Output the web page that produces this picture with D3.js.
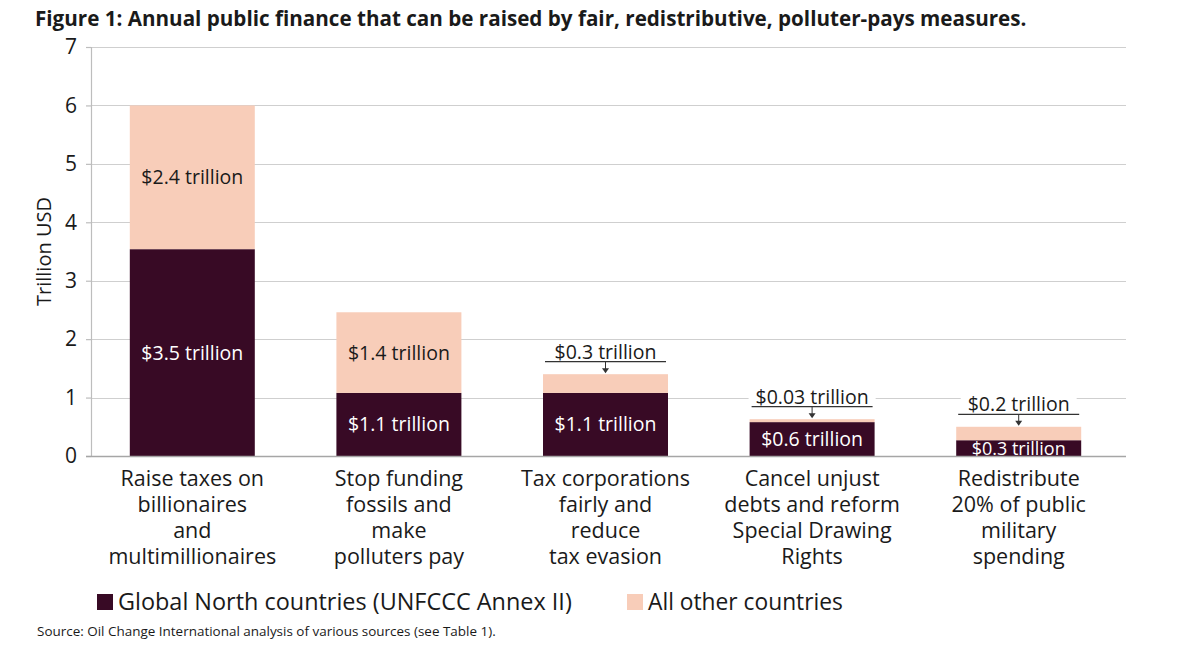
<!DOCTYPE html>
<html>
<head>
<meta charset="utf-8">
<script src="https://cdn.jsdelivr.net/npm/d3@7/dist/d3.min.js"></script>
<style>
  html, body { margin: 0; padding: 0; background: #fff; }
  svg { display: block; }
  text { font-family: "Open Sans", "Noto Sans", sans-serif; }
</style>
</head>
<body>
<svg id="chart" width="1200" height="653"></svg>
<script>
// ---- Data ----
const categories = [
  ["Raise taxes on", "billionaires", "and", "multimillionaires"],
  ["Stop funding", "fossils and", "make", "polluters pay"],
  ["Tax corporations", "fairly and", "reduce", "tax evasion"],
  ["Cancel unjust", "debts and reform", "Special Drawing", "Rights"],
  ["Redistribute", "20% of public", "military", "spending"]
];
const globalNorth = [3.54, 1.08, 1.08, 0.58, 0.27];
const allOther    = [2.46, 1.38, 0.32, 0.05, 0.23];
const globalNorthLabels = ["$3.5 trillion", "$1.1 trillion", "$1.1 trillion", "$0.6 trillion", "$0.3 trillion"];
const allOtherLabels    = ["$2.4 trillion", "$1.4 trillion", "$0.3 trillion", "$0.03 trillion", "$0.2 trillion"];
const yTicks = [0, 1, 2, 3, 4, 5, 6, 7];
const seriesNames = ["Global North countries (UNFCCC Annex II)", "All other countries"];
const titleText = "Figure 1: Annual public finance that can be raised by fair, redistributive, polluter-pays measures.";
const sourceText = "Source: Oil Change International analysis of various sources (see Table 1).";
const yTitle = "Trillion USD";

// ---- Styles ----
const DARK = "#380a25";
const LIGHT = "#f8cdb9";
const TEXT = "#1a1a1a";

const svg = d3.select("#chart");
const plot = { left: 91, right: 1126, top: 47, bottom: 456 };

const rows = categories.map((c, i) => ({
  i, lines: c, north: globalNorth[i], other: allOther[i],
  northLabel: globalNorthLabels[i], otherLabel: allOtherLabels[i]
}));

const x = d3.scaleBand()
  .domain(rows.map(d => d.i))
  .range([89, 1122])
  .paddingInner(0.395)
  .paddingOuter(0.1975);

const y = d3.scaleLinear().domain([0, 7]).range([plot.bottom, plot.top]);

function fitText(sel, width) {
  const node = sel.node();
  const fs = parseFloat(sel.attr("font-size"));
  const w = node.getComputedTextLength();
  sel.attr("font-size", (fs * width / w).toFixed(2));
}

// Title
const title = svg.append("text")
  .attr("x", 35).attr("y", 26)
  .attr("font-size", 19).attr("font-weight", 700)
  .attr("fill", TEXT)
  .text(titleText);
fitText(title, 992);

// Gridlines
svg.append("g").selectAll("line")
  .data(yTicks.filter(t => t > 0))
  .join("line")
  .attr("x1", plot.left).attr("x2", plot.right)
  .attr("y1", d => Math.round(y(d)) + 0.5).attr("y2", d => Math.round(y(d)) + 0.5)
  .attr("stroke", "#cfcfcf").attr("stroke-width", 1.2);

// Y axis
const yAxis = d3.axisLeft(y).tickValues(yTicks).tickSize(5).tickPadding(9).tickFormat(d3.format("d"));
const yg = svg.append("g").attr("transform", `translate(${plot.left},0)`).call(yAxis);
yg.select(".domain").attr("stroke", "#bdbdbd").attr("stroke-width", 1.2);
yg.selectAll(".tick line").attr("stroke", "#bdbdbd").attr("stroke-width", 1.2);
yg.selectAll(".tick text")
  .attr("font-size", 21).attr("fill", TEXT)
  .attr("font-family", "'Open Sans', sans-serif");

// Y axis title
svg.append("text")
  .attr("transform", `translate(51, ${(plot.top + plot.bottom) / 2}) rotate(-90)`)
  .attr("text-anchor", "middle")
  .attr("font-size", 20).attr("fill", TEXT)
  .text(yTitle);

// Bars
const bars = svg.append("g");
const bw = x.bandwidth();

bars.selectAll("rect.north")
  .data(rows).join("rect").attr("class", "north")
  .attr("x", d => x(d.i)).attr("width", bw)
  .attr("y", d => y(d.north)).attr("height", d => y(0) - y(d.north))
  .attr("fill", DARK);

bars.selectAll("rect.other")
  .data(rows).join("rect").attr("class", "other")
  .attr("x", d => x(d.i)).attr("width", bw)
  .attr("y", d => y(d.north + d.other)).attr("height", d => y(d.north) - y(d.north + d.other))
  .attr("fill", LIGHT);

// Baseline (x axis)
const xAxis = d3.axisBottom(x).tickSize(0).tickFormat("");
const xg = svg.append("g").attr("transform", `translate(0,${plot.bottom})`).call(xAxis);
xg.select(".domain").remove();
xg.append("line")
  .attr("x1", plot.left - 5).attr("x2", plot.right)
  .attr("y1", 0.5).attr("y2", 0.5)
  .attr("stroke", "#a6a6a6").attr("stroke-width", 1.3);

// Labels inside segments
const labelFont = 19.5;
bars.selectAll("text.north")
  .data(rows).join("text").attr("class", "north")
  .attr("x", d => x(d.i) + bw / 2)
  .attr("y", d => (y(0) + y(d.north)) / 2)
  .attr("dy", "0.36em")
  .attr("text-anchor", "middle")
  .attr("font-size", d => (y(0) - y(d.north)) < 22 ? 18 : labelFont)
  .attr("fill", "#fff")
  .text(d => d.northLabel);

const inside = d => (y(d.north) - y(d.north + d.other)) > 30;

bars.selectAll("text.otherIn")
  .data(rows.filter(inside)).join("text").attr("class", "otherIn")
  .attr("x", d => x(d.i) + bw / 2)
  .attr("y", d => (y(d.north) + y(d.north + d.other)) / 2)
  .attr("dy", "0.36em")
  .attr("text-anchor", "middle")
  .attr("font-size", labelFont)
  .attr("fill", TEXT)
  .text(d => d.otherLabel);

// Callouts for thin segments
const callouts = svg.append("g").selectAll("g")
  .data(rows.filter(d => !inside(d))).join("g");

callouts.each(function(d) {
  const g = d3.select(this);
  const top = y(d.north + d.other);
  const lineY = top - 12.5;
  const cy = lineY - 10;
  const cx = x(d.i) + bw / 2;
  const t = g.append("text")
    .attr("x", cx).attr("y", cy).attr("dy", "0.36em")
    .attr("text-anchor", "middle")
    .attr("font-size", labelFont).attr("fill", TEXT)
    .text(d.otherLabel);
  const tw = t.node().getComputedTextLength();
  g.insert("rect", "text")
    .attr("x", cx - tw / 2 - 7).attr("width", tw + 14)
    .attr("y", cy - 10).attr("height", 20)
    .attr("fill", "#fff");
  g.append("line")
    .attr("x1", x(d.i) + 2).attr("x2", x(d.i) + bw - 2)
    .attr("y1", lineY).attr("y2", lineY)
    .attr("stroke", "#333").attr("stroke-width", 1.2);
  g.append("line")
    .attr("x1", cx).attr("x2", cx)
    .attr("y1", lineY).attr("y2", top - 4)
    .attr("stroke", "#333").attr("stroke-width", 1);
  g.append("path")
    .attr("d", `M${cx - 3.5},${top - 6} L${cx + 3.5},${top - 6} L${cx},${top - 1} Z`)
    .attr("fill", "#333");
});

// Category labels
const cat = svg.append("g").selectAll("text")
  .data(rows).join("text")
  .attr("text-anchor", "middle")
  .attr("font-size", 21.5)
  .attr("fill", TEXT)
  .attr("transform", d => `translate(${x(d.i) + bw / 2}, ${plot.bottom + 29.5})`);
cat.selectAll("tspan")
  .data(d => d.lines).join("tspan")
  .attr("x", 0).attr("dy", (l, j) => j === 0 ? 0 : 26.3)
  .text(l => l);

// Legend
const legend = svg.append("g");
const legendX = [97, 627];
const legendW = [454, 195];
seriesNames.forEach((name, k) => {
  legend.append("rect")
    .attr("x", legendX[k]).attr("y", 594)
    .attr("width", 16).attr("height", 16)
    .attr("fill", k === 0 ? DARK : LIGHT);
  const lt = legend.append("text")
    .attr("x", legendX[k] + 21).attr("y", 602).attr("dy", "0.36em")
    .attr("font-size", 21).attr("fill", TEXT)
    .text(name);
  fitText(lt, legendW[k]);
});

// Source
const src = svg.append("text")
  .attr("x", 37).attr("y", 636)
  .attr("font-size", 13)
  .attr("font-family", "'Liberation Sans Narrow', 'Roboto', sans-serif")
  .attr("fill", TEXT)
  .text(sourceText);
fitText(src, 459);
</script>
</body>
</html>
